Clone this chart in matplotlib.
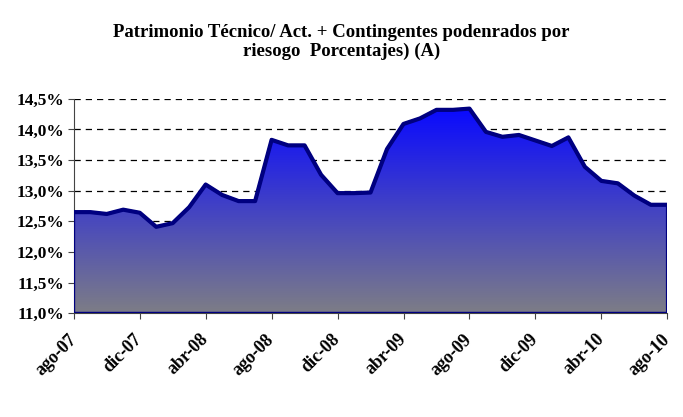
import matplotlib
matplotlib.use("Agg")
import matplotlib.pyplot as plt
import numpy as np
from matplotlib.colors import LinearSegmentedColormap
from matplotlib.patches import Polygon

plt.rcParams['font.family'] = ['Liberation Serif', 'DejaVu Serif']

# monthly values, ago-07 .. ago-10 (percent)
values = [12.65, 12.65, 12.62, 12.69, 12.64, 12.41, 12.47, 12.73, 13.10, 12.93,
          12.83, 12.83, 13.83, 13.74, 13.74, 13.26, 12.96, 12.96, 12.97, 13.68,
          14.09, 14.18, 14.32, 14.32, 14.34, 13.96, 13.88, 13.91, 13.82, 13.73,
          13.87, 13.39, 13.16, 13.12, 12.92, 12.77, 12.77]
tick_labels = ['ago-07', 'dic-07', 'abr-08', 'ago-08', 'dic-08',
               'abr-09', 'ago-09', 'dic-09', 'abr-10', 'ago-10']
y_ticks = [11.0, 11.5, 12.0, 12.5, 13.0, 13.5, 14.0, 14.5]

x = np.arange(len(values))
ymin, ymax = 11.0, 14.5

fig = plt.figure(figsize=(6.83, 4.17), dpi=100)
ax = fig.add_axes((0.108, 0.249, 0.869, 0.514))

# gradient fill clipped to the area
cmap = LinearSegmentedColormap.from_list('bg', ['#7d7d86', '#0a0aff'])
grad = np.linspace(0, 1, 256).reshape(-1, 1)
img = ax.imshow(grad, cmap=cmap, origin='lower', aspect='auto',
                extent=(x[0], x[-1], ymin, max(values)), zorder=2)
verts = [(x[0], ymin)] + list(zip(x, values)) + [(x[-1], ymin)]
poly = Polygon(verts, closed=True, facecolor='none', edgecolor='#000080',
               linewidth=2, zorder=3)
ax.add_patch(poly)
img.set_clip_path(poly)
ax.plot(x, values, color='#000080', linewidth=3, zorder=4,
        solid_joinstyle='round')

ax.set_xlim(x[0], x[-1])
ax.set_ylim(ymin, ymax)
ax.set_yticks(y_ticks)
ax.set_yticklabels([f"{v:.1f}%".replace('.', ',') for v in y_ticks],
                   fontsize=12.5, fontweight='bold')
ax.set_xticks(x[::4])
ax.set_xticklabels(tick_labels, rotation=45, ha='right', va='center',
                   rotation_mode='anchor', fontsize=13, fontweight='bold')
ax.tick_params(axis='both', direction='out', length=4, color='#444444')
ax.tick_params(axis='x', pad=13)
ax.tick_params(axis='y', pad=3)

for v in y_ticks[1:]:
    ax.axhline(v, color='black', linestyle=(0, (5, 4)), linewidth=0.9, zorder=1)

for s in ['top', 'right']:
    ax.spines[s].set_visible(False)
ax.spines['left'].set_color('#444444')
ax.spines['bottom'].set_color('#444444')

fig.text(0.5, 0.923, "Patrimonio Técnico/ Act. + Contingentes podenrados por",
         ha='center', va='center', fontsize=13.5, fontweight='bold')
fig.text(0.5, 0.877, "riesogo  Porcentajes) (A)",
         ha='center', va='center', fontsize=13.5, fontweight='bold')

fig.savefig('out.png', dpi=100)
